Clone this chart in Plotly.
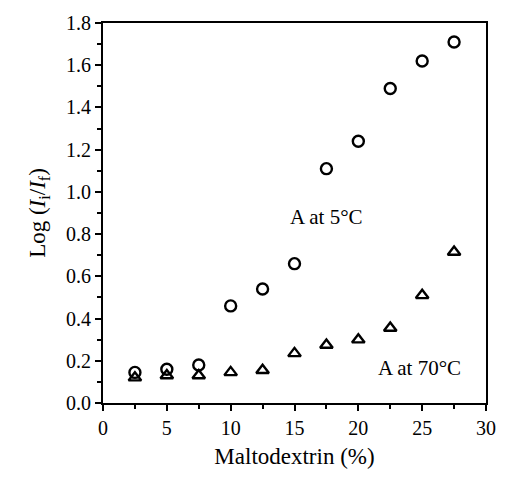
import plotly.graph_objects as go

# Maltodextrin concentration (%)
maltodextrin = [2.5, 5, 7.5, 10, 12.5, 15, 17.5, 20, 22.5, 25, 27.5]
# Log(Ii/If) for sample A at 5 °C and at 70 °C
log_ratio_5c = [0.145, 0.16, 0.18, 0.46, 0.54, 0.66, 1.11, 1.24, 1.49, 1.62, 1.71]
log_ratio_70c = [0.12, 0.13, 0.13, 0.145, 0.155, 0.235, 0.275, 0.30, 0.355, 0.51, 0.715]

font_family = "Liberation Serif, Times New Roman, serif"

fig = go.Figure()
fig.add_trace(go.Scatter(
    x=maltodextrin, y=log_ratio_5c, mode="markers", name="A at 5°C",
    marker=dict(symbol="circle-open", size=11, color="black", line=dict(width=2.4)),
))
fig.add_trace(go.Scatter(
    x=maltodextrin, y=log_ratio_70c, mode="markers", name="A at 70°C",
    marker=dict(symbol="triangle-up-open", size=11, color="black", line=dict(width=2.4)),
))

fig.add_annotation(x=17.5, y=0.88, text="A at 5°C", showarrow=False,
                   font=dict(family=font_family, size=21, color="black"))
fig.add_annotation(x=24.8, y=0.165, text="A at 70°C", showarrow=False,
                   font=dict(family=font_family, size=21, color="black"))

axis_common = dict(
    showline=True, linecolor="black", linewidth=2, mirror=True,
    showgrid=False, zeroline=False, ticks="outside", tickcolor="black",
    tickwidth=2, ticklen=6,
    tickfont=dict(family=font_family, size=20, color="black"),
)

fig.update_xaxes(
    range=[0, 30], dtick=5, tick0=0,
    minor=dict(dtick=2.5, ticks="outside", ticklen=4, tickwidth=2, tickcolor="black"),
    title=dict(text="Maltodextrin (%)", font=dict(family=font_family, size=23, color="black"),
               standoff=10),
    **axis_common,
)
fig.update_yaxes(
    range=[0, 1.8], dtick=0.2, tick0=0, tickformat=".1f",
    minor=dict(dtick=0.1, ticks="outside", ticklen=4, tickwidth=2, tickcolor="black"),
    title=dict(text="Log (<i>I</i><sub>i</sub>/<i>I</i><sub>f</sub>)",
               font=dict(family=font_family, size=23, color="black"), standoff=14),
    **axis_common,
)

fig.update_layout(
    width=508, height=478,
    margin=dict(l=103, r=15, t=18, b=75),
    paper_bgcolor="white", plot_bgcolor="white",
    showlegend=False,
)

fig.write_html("out.html")
